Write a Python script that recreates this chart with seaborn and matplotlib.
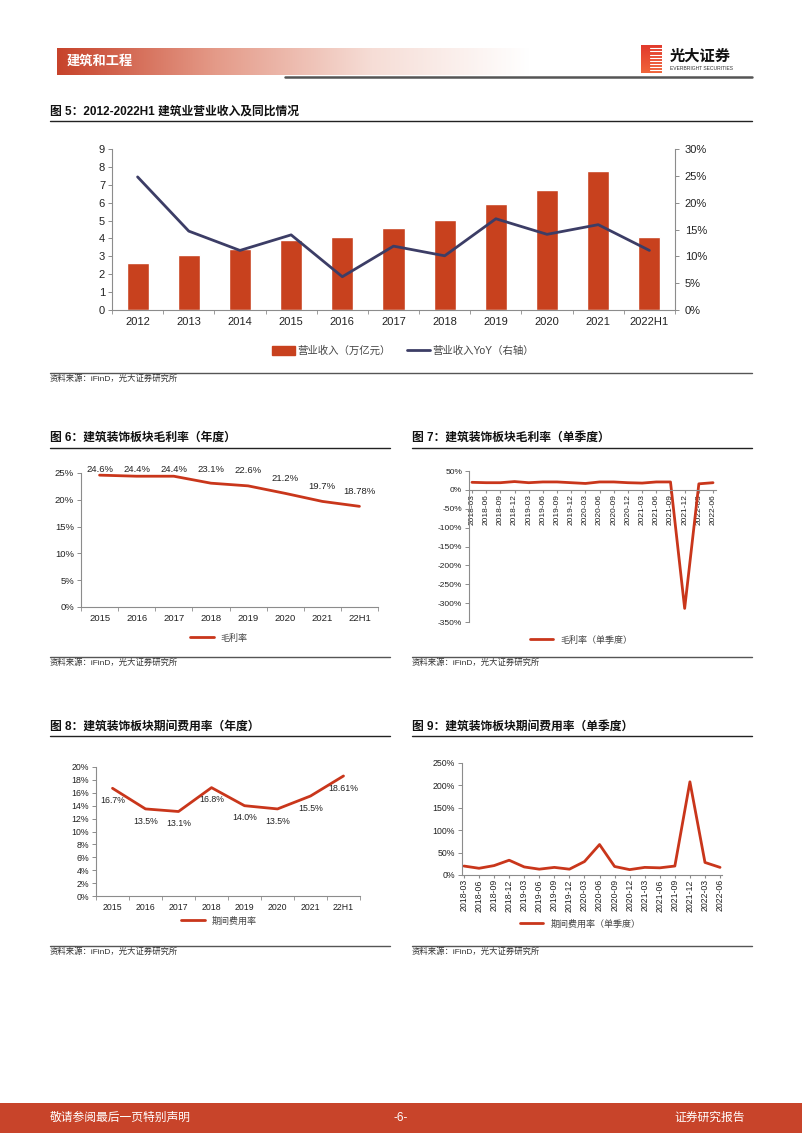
import numpy as np
import pandas as pd
import matplotlib
matplotlib.use("Agg")
import matplotlib.pyplot as plt
import seaborn as sns
from matplotlib.lines import Line2D
from matplotlib.patches import Patch, Rectangle
from matplotlib.colors import LinearSegmentedColormap
from matplotlib import font_manager

# ---- data ----
years_rev = ['2012', '2013', '2014', '2015', '2016', '2017', '2018', '2019', '2020', '2021', '2022H1']
revenue = [2.65, 3.08, 3.40, 3.90, 4.07, 4.57, 5.03, 5.90, 6.72, 7.77, 4.08]
revenue_yoy = [24.8, 14.7, 11.1, 14.0, 6.2, 11.9, 10.1, 17.0, 14.1, 15.9, 11.1]

years_annual = ['2015', '2016', '2017', '2018', '2019', '2020', '2021', '22H1']
gross_margin = [24.6, 24.4, 24.4, 23.1, 22.6, 21.2, 19.7, 18.78]
gross_labels = ['24.6%', '24.4%', '24.4%', '23.1%', '22.6%', '21.2%', '19.7%', '18.78%']
expense_rate = [16.7, 13.5, 13.1, 16.8, 14.0, 13.5, 15.5, 18.61]
expense_labels = ['16.7%', '13.5%', '13.1%', '16.8%', '14.0%', '13.5%', '15.5%', '18.61%']

quarters = ['2018-03', '2018-06', '2018-09', '2018-12', '2019-03', '2019-06', '2019-09', '2019-12',
            '2020-03', '2020-06', '2020-09', '2020-12', '2021-03', '2021-06', '2021-09', '2021-12',
            '2022-03', '2022-06']
gross_margin_q = [20, 19, 19, 22, 19, 21, 21, 19, 17, 21, 21, 19, 18, 21, 21, -314, 16, 19]
expense_rate_q = [20, 15, 21, 33, 18, 13, 17, 13, 30, 68, 19, 12, 17, 16, 20, 208, 28, 17]

# ---- style ----
RED = '#C8411E'
LINE_RED = '#C9361B'
NAVY = '#3C3D66'
AXIS = '#8C8C8C'
TXT = '#222222'

sns.set_style('white')
names = {f.name for f in font_manager.fontManager.ttflist}
NARROW = 'Liberation Sans Narrow' if 'Liberation Sans Narrow' in names else 'Liberation Sans'
plt.rcParams['font.family'] = ['Liberation Sans', 'Noto Sans CJK SC', 'DejaVu Sans']

W, H = 802, 1133
fig = plt.figure(figsize=(W / 100, H / 100), dpi=100)


def box(l, t, r, b):
    return [l / W, 1 - b / H, (r - l) / W, (b - t) / H]


def ftext(x, y, s, **kw):
    fig.text(x / W, 1 - y / H, s, **kw)


def fline(x0, x1, y, color='#333333', lw=0.9):
    fig.add_artist(Line2D([x0 / W, x1 / W], [1 - y / H, 1 - y / H],
                          transform=fig.transFigure, color=color, lw=lw))


def style_axes(ax, fs=7):
    for s in ['top', 'right']:
        ax.spines[s].set_visible(False)
    for s in ['left', 'bottom']:
        ax.spines[s].set_color(AXIS)
        ax.spines[s].set_linewidth(0.8)
    ax.tick_params(axis='y', which='major', length=3, width=0.7, color=AXIS,
                   labelsize=fs, labelcolor=TXT, pad=2, left=True)
    ax.set_xlabel('')
    ax.set_ylabel('')


def line_legend(cx, cy, label):
    h = [Line2D([], [], color=LINE_RED, lw=2)]
    fig.legend(h, [label], loc='center', bbox_to_anchor=(cx / W, 1 - cy / H),
               frameon=False, fontsize=6.5, handlelength=2.6, labelcolor='#444444')


# ---- page header ----
ax_band = fig.add_axes(box(57, 48, 530, 75))
cmap = LinearSegmentedColormap.from_list('band', ['#C7432B', '#E49A88', '#F6DDD6', '#FFFFFF'])
ax_band.imshow(np.linspace(0, 1, 256).reshape(1, -1), aspect='auto', cmap=cmap)
ax_band.axis('off')
ftext(67, 61, '建筑和工程', color='white', fontsize=9.5, fontweight='bold', va='center')
fline(285, 752, 77, color='#555555', lw=1.8)

ax_logo = fig.add_axes(box(641, 45, 662, 73))
ax_logo.imshow(np.linspace(0, 1, 64).reshape(-1, 1), aspect='auto',
               cmap=LinearSegmentedColormap.from_list('lg', ['#E23A2C', '#F0643A']))
for k in range(1, 9):
    ax_logo.axhline(k * 7.1, xmin=0.45, xmax=1.0, color='white', lw=0.8)
ax_logo.axis('off')
ftext(670, 57, '光大证券', fontsize=11, fontweight='bold', color='#111111', va='center')
ftext(670, 69, 'EVERBRIGHT SECURITIES', fontsize=3.6, color='#333333', va='center')

# ---- chart 5: revenue ----
ftext(50, 112, '图 5：2012-2022H1 建筑业营业收入及同比情况', fontsize=8.5, fontweight='bold',
      color='#111111', va='center')
fline(50, 752, 121, color='#222222', lw=1.0)

df1 = pd.DataFrame({'year': years_rev, 'rev': revenue, 'yoy': revenue_yoy})
df1['pos'] = np.arange(len(df1))
ax1 = fig.add_axes(box(112, 149, 675, 310))
sns.barplot(data=df1, x='year', y='rev', color=RED, saturation=1, width=0.43, ax=ax1)
ax1.set_ylim(0, 9)
ax1.set_xlim(-0.5, len(df1) - 0.5)
ax1.set_yticks(range(0, 10))
style_axes(ax1, fs=8)
ax1.tick_params(axis='x', which='major', length=0, labelsize=8, pad=5, labelcolor=TXT)
ax1.set_xticks(np.arange(-0.5, len(df1), 1), minor=True)
ax1.tick_params(axis='x', which='minor', length=3, color=AXIS, bottom=True)
for lab in ax1.get_xticklabels() + ax1.get_yticklabels():
    lab.set_family(NARROW)

ax1b = ax1.twinx()
sns.lineplot(data=df1, x='pos', y='yoy', color=NAVY, lw=2, ax=ax1b)
ax1b.set_ylim(0, 30)
ax1b.set_yticks(range(0, 31, 5))
ax1b.set_yticklabels([f'{v}%' for v in range(0, 31, 5)])
for s in ['top', 'left', 'bottom']:
    ax1b.spines[s].set_visible(False)
ax1b.spines['right'].set_color(AXIS)
ax1b.spines['right'].set_linewidth(0.8)
ax1b.tick_params(axis='y', length=3, width=0.7, color=AXIS, labelsize=8, labelcolor=TXT, pad=4)
ax1b.set_ylabel('')
for lab in ax1b.get_yticklabels():
    lab.set_family(NARROW)

h1 = [Patch(color=RED), Line2D([], [], color=NAVY, lw=2)]
fig.legend(h1, ['营业收入（万亿元）', '营业收入YoY（右轴）'], loc='center',
           bbox_to_anchor=(403 / W, 1 - 351 / H), ncol=2, frameon=False, fontsize=7.5,
           handlelength=2.2, handleheight=0.9, columnspacing=1.6, handletextpad=0.2,
           labelcolor='#444444')
fline(50, 752, 373, color='#555555', lw=1.0)
ftext(50, 379, '资料来源：iFinD，光大证券研究所', fontsize=6, color='#333333', va='center')

# ---- chart 6: annual gross margin ----
ftext(50, 438, '图 6：建筑装饰板块毛利率（年度）', fontsize=8.5, fontweight='bold',
      color='#111111', va='center')
fline(50, 390, 448, color='#222222', lw=1.0)
df2 = pd.DataFrame({'year': years_annual, 'gm': gross_margin})
df2['pos'] = np.arange(len(df2))
ax2 = fig.add_axes(box(81, 473, 378, 607))
sns.lineplot(data=df2, x='pos', y='gm', color=LINE_RED, lw=2, ax=ax2)
ax2.set_ylim(0, 25)
ax2.set_xlim(-0.5, len(df2) - 0.5)
ax2.set_yticks(range(0, 26, 5))
ax2.set_yticklabels([f'{v}%' for v in range(0, 26, 5)])
ax2.set_xticks(df2['pos'])
ax2.set_xticklabels(years_annual)
style_axes(ax2, fs=6.8)
ax2.tick_params(axis='x', which='major', length=0, labelsize=6.8, pad=5, labelcolor=TXT)
ax2.set_xticks(np.arange(-0.5, len(df2), 1), minor=True)
ax2.tick_params(axis='x', which='minor', length=3, color=AXIS, bottom=True)
for i, (v, s) in enumerate(zip(gross_margin, gross_labels)):
    ax2.text(i, min(v + 2.8, 25.7), s, ha='center', va='center', fontsize=6.8,
             color=TXT, clip_on=False)
line_legend(219, 638, '毛利率')
fline(50, 390, 657, color='#555555', lw=1.0)
ftext(50, 663, '资料来源：iFinD，光大证券研究所', fontsize=6, color='#333333', va='center')

# ---- chart 7: quarterly gross margin ----
ftext(412, 438, '图 7：建筑装饰板块毛利率（单季度）', fontsize=8.5, fontweight='bold',
      color='#111111', va='center')
fline(412, 752, 448, color='#222222', lw=1.0)
df3 = pd.DataFrame({'q': quarters, 'gm': gross_margin_q})
df3['pos'] = np.arange(len(df3))
ax3 = fig.add_axes(box(469, 471, 716, 622))
sns.lineplot(data=df3, x='pos', y='gm', color=LINE_RED, lw=2, ax=ax3)
style_axes(ax3, fs=6)
ax3.spines['bottom'].set_position(('data', 0))
ax3.set_ylim(-350, 50)
ax3.set_xlim(-0.21, len(df3) - 1 + 0.21)
ax3.set_yticks(range(-350, 51, 50))
ax3.set_yticklabels([f'{v}%' for v in range(-350, 51, 50)])
ax3.set_xticks(df3['pos'])
ax3.set_xticklabels(quarters)
ax3.tick_params(axis='y', which='major', length=3, width=0.7, color=AXIS,
                labelsize=6, labelcolor=TXT, pad=2, left=True)
ax3.tick_params(axis='x', which='major', length=2, color=AXIS, labelsize=6, pad=1,
                labelcolor=TXT, bottom=True, labelrotation=90)
line_legend(581, 640, '毛利率（单季度）')
fline(412, 752, 657, color='#555555', lw=1.0)
ftext(412, 663, '资料来源：iFinD，光大证券研究所', fontsize=6, color='#333333', va='center')

# ---- chart 8: annual expense rate ----
ftext(50, 727, '图 8：建筑装饰板块期间费用率（年度）', fontsize=8.5, fontweight='bold',
      color='#111111', va='center')
fline(50, 390, 736, color='#222222', lw=1.0)
df4 = pd.DataFrame({'year': years_annual, 'er': expense_rate})
df4['pos'] = np.arange(len(df4))
ax4 = fig.add_axes(box(96, 767, 360, 896))
sns.lineplot(data=df4, x='pos', y='er', color=LINE_RED, lw=2, ax=ax4)
ax4.set_ylim(0, 20)
ax4.set_xlim(-0.5, len(df4) - 0.5)
ax4.set_yticks(range(0, 21, 2))
ax4.set_yticklabels([f'{v}%' for v in range(0, 21, 2)])
ax4.set_xticks(df4['pos'])
ax4.set_xticklabels(years_annual)
style_axes(ax4, fs=6.3)
ax4.tick_params(axis='x', which='major', length=0, labelsize=6.3, pad=5, labelcolor=TXT)
ax4.set_xticks(np.arange(-0.5, len(df4), 1), minor=True)
ax4.tick_params(axis='x', which='minor', length=3, color=AXIS, bottom=True)
for i, (v, s) in enumerate(zip(expense_rate, expense_labels)):
    ax4.text(i, v - 1.9, s, ha='center', va='center', fontsize=6.3, color=TXT)
line_legend(219, 921, '期间费用率')
fline(50, 390, 946, color='#555555', lw=1.0)
ftext(50, 952, '资料来源：iFinD，光大证券研究所', fontsize=6, color='#333333', va='center')

# ---- chart 9: quarterly expense rate ----
ftext(412, 727, '图 9：建筑装饰板块期间费用率（单季度）', fontsize=8.5, fontweight='bold',
      color='#111111', va='center')
fline(412, 752, 736, color='#222222', lw=1.0)
df5 = pd.DataFrame({'q': quarters, 'er': expense_rate_q})
df5['pos'] = np.arange(len(df5))
ax5 = fig.add_axes(box(462, 763, 722, 875))
sns.lineplot(data=df5, x='pos', y='er', color=LINE_RED, lw=2, ax=ax5)
ax5.set_ylim(0, 250)
ax5.set_xlim(-0.13, len(df5) - 1 + 0.13)
ax5.set_yticks(range(0, 251, 50))
ax5.set_yticklabels([f'{v}%' for v in range(0, 251, 50)])
ax5.set_xticks(df5['pos'])
ax5.set_xticklabels(quarters, rotation=90)
style_axes(ax5, fs=6.3)
ax5.tick_params(axis='x', which='major', length=2, color=AXIS, labelsize=6.3, pad=1,
                labelcolor=TXT, bottom=True)
line_legend(580, 924, '期间费用率（单季度）')
fline(412, 752, 946, color='#555555', lw=1.0)
ftext(412, 952, '资料来源：iFinD，光大证券研究所', fontsize=6, color='#333333', va='center')

# ---- footer ----
fig.add_artist(Rectangle((0, 0), 1, 30 / H, transform=fig.transFigure,
                         facecolor='#C8442A', edgecolor='none'))
ftext(50, 1118, '敬请参阅最后一页特别声明', fontsize=8.5, color='white', va='center')
ftext(401, 1118, '-6-', fontsize=8.5, color='white', va='center', ha='center')
ftext(745, 1118, '证券研究报告', fontsize=8.5, color='white', va='center', ha='right')

fig.savefig('out.png', dpi=100)
